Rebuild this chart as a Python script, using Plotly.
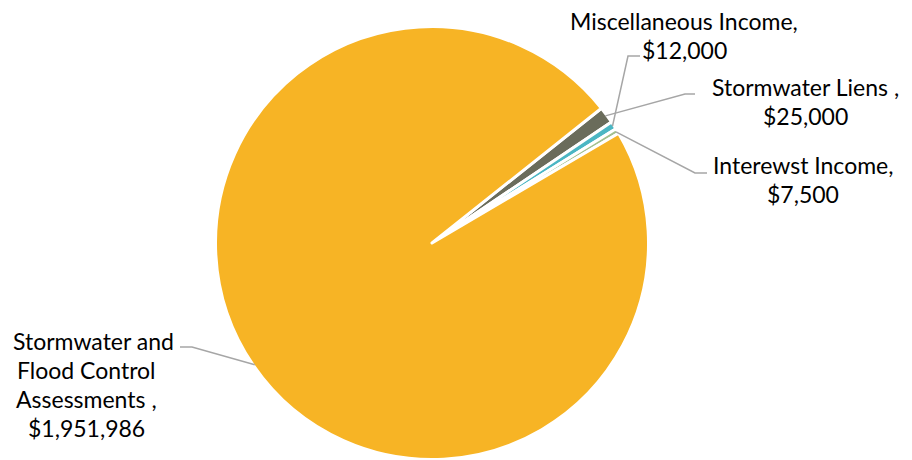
import math
import plotly.graph_objects as go

# ---- data ----
categories = ["Stormwater Liens", "Miscellaneous Income", "Interewst Income",
              "Stormwater and Flood Control Assessments"]
values = [25000, 12000, 7500, 1951986]
label_lines = [
    ["Stormwater Liens ,"],
    ["Miscellaneous Income,"],
    ["Interewst Income,"],
    ["Stormwater and", "Flood Control", "Assessments ,"],
]
colors = ["#6A6C5B", "#4BB6C3", "#A3C08E", "#F7B425"]

# ---- layout constants (pixels) ----
W, H = 912, 460
CX, CY, R = 432, 243, 215
RD = R + 1.5  # domain radius (white outline eats half the stroke)
ROTATION = 51.5
FONT = "Lato"
FS = 23
LINE_GAP = 29
# label centre x and first-line y per category
label_pos = [(805, 86.5), (684, 21), (803, 165), (86, 340.5)]
first_line_dx = [0, 0, 0, 7]
elbows = [((685, 94), (695, 94)), ((628, 56), (640, 56)),
          ((695, 173), (707, 173)), ((192, 347), (180, 347))]

fig = go.Figure()
fig.add_trace(go.Pie(
    labels=categories, values=values, sort=False, direction="clockwise",
    rotation=ROTATION, textinfo="none",
    marker=dict(colors=colors, line=dict(color="white", width=3)),
    domain=dict(x=[(CX - RD) / W, (CX + RD) / W], y=[1 - (CY + RD) / H, 1 - (CY - RD) / H]),
    showlegend=False,
))

total = sum(values)
start = ROTATION
shapes = []
annotations = []
for i, v in enumerate(values):
    ang = v / total * 360
    mid = math.radians(start + ang / 2)
    start += ang
    ax = CX + R * math.sin(mid)
    ay = CY - R * math.cos(mid)
    (ex, ey), (hx, hy) = elbows[i]
    shapes.append(dict(type="path", xref="x", yref="y",
                       path=f"M {ax:.1f},{ay:.1f} L {ex},{ey} L {hx},{hy}",
                       line=dict(color="#A6A6A6", width=1.5)))
    lines = label_lines[i] + ["${:,}".format(v)]
    lx, ly = label_pos[i]
    for j, line in enumerate(lines):
        annotations.append(dict(x=lx + (first_line_dx[i] if j == 0 else 0),
                                y=ly + j * LINE_GAP, xref="x", yref="y", text=line,
                                showarrow=False, xanchor="center", yanchor="middle",
                                font=dict(family=FONT, size=FS, color="#000000")))

fig.update_layout(
    width=W, height=H, margin=dict(l=0, r=0, t=0, b=0),
    paper_bgcolor="white", plot_bgcolor="rgba(0,0,0,0)",
    xaxis=dict(range=[0, W], visible=False, fixedrange=True),
    yaxis=dict(range=[H, 0], visible=False, fixedrange=True),
    shapes=shapes, annotations=annotations,
)
fig.write_html("out.html")
